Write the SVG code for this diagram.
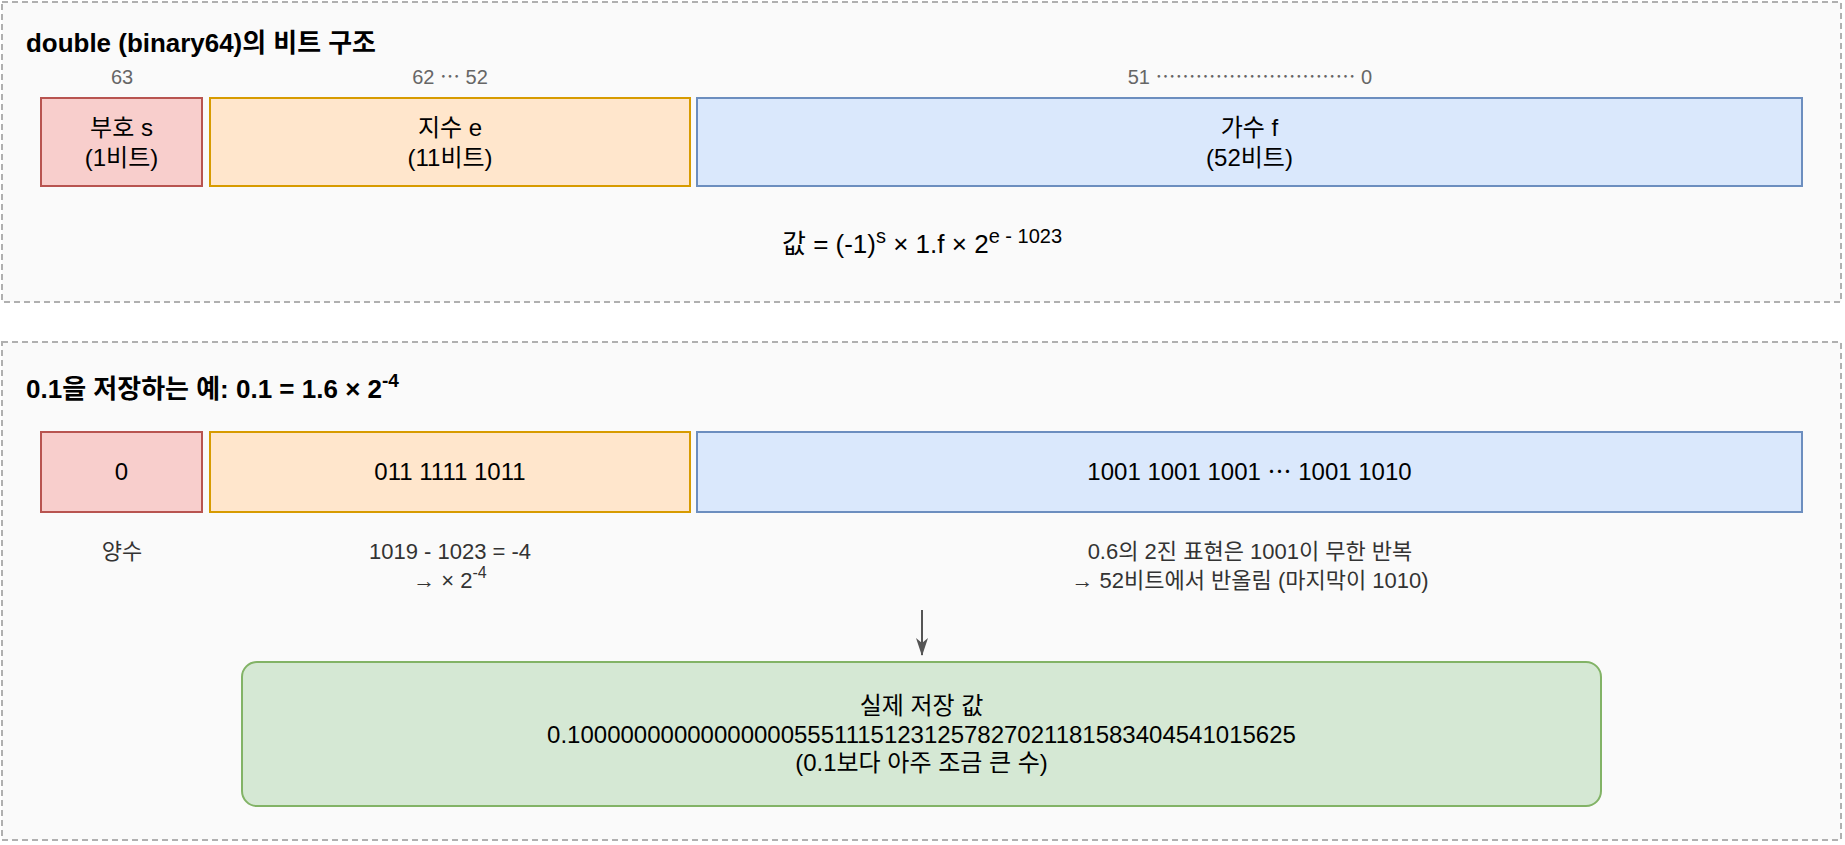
<svg xmlns="http://www.w3.org/2000/svg" width="1845" height="845" viewBox="0 0 1845 845">
<style>
text{font-family:"Liberation Sans","Noto Sans CJK KR",sans-serif;}
.panel{fill:#fafafa;stroke:#b0b0b0;stroke-width:2;stroke-dasharray:6 4;}
.title{font-size:26px;font-weight:bold;fill:#000;}
.lbl{font-size:20px;fill:#666;text-anchor:middle;}
.box{font-size:24px;fill:#000;text-anchor:middle;}
.fml{font-size:26px;fill:#000;text-anchor:middle;}
.note{font-size:22px;fill:#333;text-anchor:middle;}
.sgn{fill:#f8cecc;stroke:#b85450;stroke-width:2;}
.exp{fill:#ffe6cc;stroke:#d79b00;stroke-width:2;}
.man{fill:#dae8fc;stroke:#6c8ebf;stroke-width:2;}
.res{fill:#d5e8d4;stroke:#82b366;stroke-width:2;}
.conn{stroke:#555;stroke-width:2;fill:none;}
</style>
<defs>
<marker id="arr" viewBox="0 0 18 14" refX="17" refY="7" markerWidth="18" markerHeight="14" markerUnits="userSpaceOnUse" orient="auto">
<path d="M18,7 L0,1 L5,7 L0,13 Z" fill="#555"/>
</marker>
</defs>

<g id="panel-structure">
<rect class="panel" x="2" y="2" width="1839" height="300"/>
<text class="title" x="26" y="52" textLength="350" lengthAdjust="spacingAndGlyphs">double (binary64)의 비트 구조</text>
</g>

<g id="label-63"><text class="lbl" x="122" y="84">63</text></g>
<g id="label-62-52"><text class="lbl" x="450" y="84">62 ⋯ 52</text></g>
<g id="label-51-0"><text class="lbl" x="1250" y="84">51 ⋯⋯⋯⋯⋯⋯⋯⋯⋯⋯ 0</text></g>

<g id="sign-field">
<rect class="sgn" x="41" y="98" width="161" height="88"/>
<text class="box" x="121.5" y="136">부호 s</text>
<text class="box" x="121.5" y="166">(1비트)</text>
</g>
<g id="exponent-field">
<rect class="exp" x="210" y="98" width="480" height="88"/>
<text class="box" x="450" y="136">지수 e</text>
<text class="box" x="450" y="166">(11비트)</text>
</g>
<g id="mantissa-field">
<rect class="man" x="697" y="98" width="1105" height="88"/>
<text class="box" x="1249.5" y="136">가수 f</text>
<text class="box" x="1249.5" y="166">(52비트)</text>
</g>

<g id="formula">
<text class="fml" x="922" y="253">값 = (-1)<tspan font-size="20" dy="-10">s</tspan><tspan dy="10"> × 1.f × 2</tspan><tspan font-size="20" dy="-10">e - 1023</tspan></text>
</g>

<g id="panel-example">
<rect class="panel" x="2" y="342" width="1839" height="498"/>
<text class="title" x="26" y="398">0.1을 저장하는 예: 0.1 = 1.6 × 2<tspan font-size="19" dy="-11">-4</tspan></text>
</g>

<g id="sign-value">
<rect class="sgn" x="41" y="432" width="161" height="80"/>
<text class="box" x="121.5" y="480">0</text>
</g>
<g id="exponent-value">
<rect class="exp" x="210" y="432" width="480" height="80"/>
<text class="box" x="450" y="480">011 1111 1011</text>
</g>
<g id="mantissa-value">
<rect class="man" x="697" y="432" width="1105" height="80"/>
<text class="box" x="1249.5" y="480">1001 1001 1001 ⋯ 1001 1010</text>
</g>

<g id="note-sign"><text class="note" x="122" y="559">양수</text></g>
<g id="note-exponent">
<text class="note" x="450" y="559">1019 - 1023 = -4</text>
<text class="note" x="450" y="588">→ × 2<tspan font-size="16" dy="-10">-4</tspan></text>
</g>
<g id="note-mantissa">
<text class="note" x="1250" y="559">0.6의 2진 표현은 1001이 무한 반복</text>
<text class="note" x="1250" y="588">→ 52비트에서 반올림 (마지막이 1010)</text>
</g>

<g id="connectors">
<line class="conn" x1="922" y1="610" x2="922" y2="655" marker-end="url(#arr)"/>
</g>

<g id="stored-value">
<rect class="res" x="242" y="662" width="1359" height="144" rx="15" ry="15"/>
<text class="box" x="921.5" y="714">실제 저장 값</text>
<text class="box" x="921.5" y="742.5">0.1000000000000000055511151231257827021181583404541015625</text>
<text class="box" x="921.5" y="771">(0.1보다 아주 조금 큰 수)</text>
</g>
</svg>
